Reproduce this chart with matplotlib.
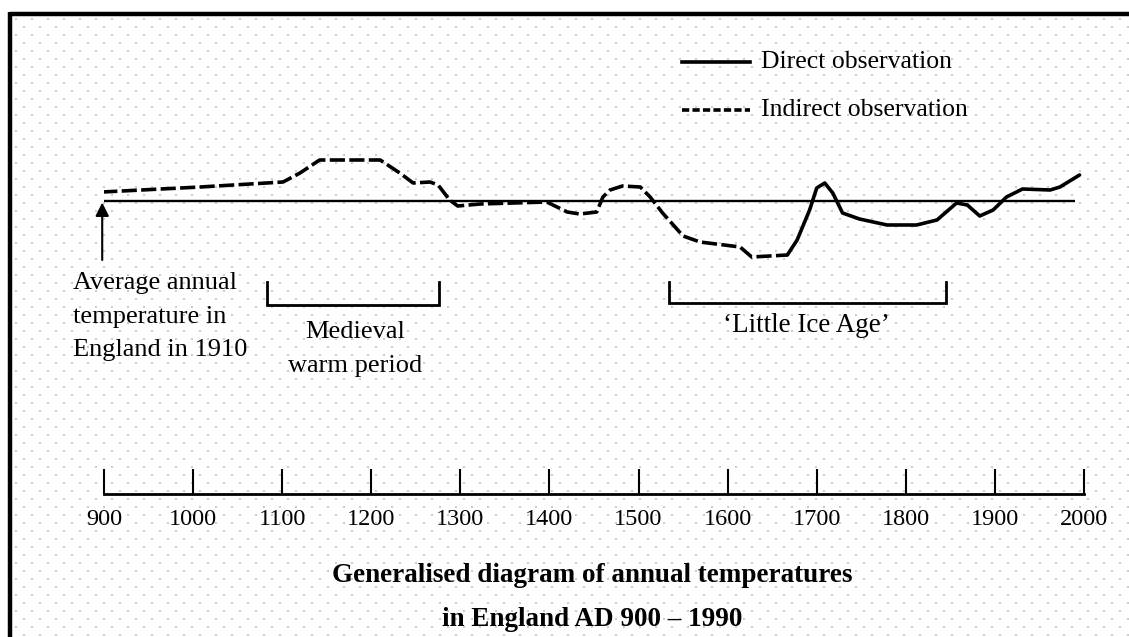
"""
Generalised diagram of annual temperatures in England AD 900 - 1990
(values are relative to the 1910 average, read off the printed figure)
"""
import numpy as np
import matplotlib
matplotlib.use("Agg")
import matplotlib.pyplot as plt

plt.rcParams["font.family"] = ["Liberation Serif", "DejaVu Serif"]

# ===== data (year, relative temperature) =====
indirect_years = [898, 1008, 1101, 1120, 1142, 1210, 1232, 1247, 1266, 1275,
                  1288, 1297, 1322, 1397, 1420, 1434, 1453, 1460, 1468, 1482,
                  1502, 1513, 1527, 1550, 1569, 1614, 1627, 1667]
indirect_temp = [0.18, 0.28, 0.38, 0.56, 0.82, 0.82, 0.56, 0.36, 0.38, 0.32,
                 0.02, -0.10, -0.06, -0.02, -0.22, -0.26, -0.22, 0.08, 0.22, 0.30,
                 0.28, 0.08, -0.24, -0.70, -0.82, -0.92, -1.12, -1.08]

direct_years = [1667, 1678, 1692, 1700, 1709, 1718, 1729, 1748, 1779, 1812,
                1835, 1857, 1869, 1883, 1898, 1913, 1931, 1962, 1973, 1995]
direct_temp = [-1.08, -0.78, -0.18, 0.26, 0.36, 0.16, -0.24, -0.36, -0.48, -0.48,
               -0.38, -0.04, -0.08, -0.30, -0.18, 0.08, 0.24, 0.22, 0.28, 0.52]

avg_1910 = 0.0
avg_span = (898, 1990)
medieval = (1083, 1276)
little_ice_age = (1534, 1845)
tick_years = list(range(900, 2001, 100))

W, H = 1129, 637
fig = plt.figure(figsize=(W / 100, H / 100), dpi=100)

# ----- background: dotted paper + frame -----
bg = fig.add_axes([0, 0, 1, 1], zorder=0)
bg.set_xlim(0, W); bg.set_ylim(H, 0); bg.axis("off")
gx, gy = np.meshgrid(np.arange(16, W + 16, 16), np.arange(19, H + 8, 8))
gx = gx + (np.arange(gy.shape[0])[:, None] % 2) * 8
bg.scatter(gx.ravel(), gy.ravel(), s=1.6, marker="s", c="#cccccc", linewidths=0)
bg.plot([9.5, W], [13.5, 13.5], color="black", lw=3.2, solid_capstyle="butt")
bg.plot([9.5, 9.5], [12, H], color="black", lw=3.2, solid_capstyle="butt")

# ----- main chart -----
ax = fig.add_axes([104 / W, 143 / H, 980 / W, 479 / H], zorder=1)
ax.patch.set_alpha(0)
ax.set_xlim(900, 2000)
ax.set_ylim(-5.86, 3.72)

ax.hlines(avg_1910, *avg_span, color="black", lw=1.7)
ax.plot(indirect_years, indirect_temp, color="black", lw=2.6,
        dashes=(4.2, 1.2), solid_joinstyle="round", dash_joinstyle="round")
ax.plot(direct_years, direct_temp, color="black", lw=2.6,
        solid_joinstyle="round", solid_capstyle="round")

for s in ["left", "right", "top"]:
    ax.spines[s].set_visible(False)
ax.spines["bottom"].set_linewidth(2.0)
ax.set_yticks([])
ax.set_xticks(tick_years)
ax.tick_params(axis="x", direction="in", length=18, width=1.5, pad=11,
               labelsize=17.5)

# annotation: 1910 average
ax.annotate("", xy=(898, -0.03), xytext=(898, -1.18), annotation_clip=False,
            arrowprops=dict(arrowstyle="-|>", color="black", lw=1.5,
                            mutation_scale=20, shrinkA=0, shrinkB=0))
ax.text(865, -1.42, "Average annual\ntemperature in\nEngland in 1910",
        ha="left", va="top", fontsize=19, linespacing=1.68, clip_on=False)

# period brackets
for (a, b), top, bot in [(medieval, -1.62, -2.08), (little_ice_age, -1.62, -2.04)]:
    ax.plot([a, a, b, b], [top, bot, bot, top], color="black", lw=2.0,
            solid_joinstyle="miter")
ax.text(1182, -2.40, "Medieval\nwarm period", ha="center", va="top",
        fontsize=19, linespacing=1.68)
ax.text(1689, -2.50, "\u2018Little Ice Age\u2019", ha="center", va="center",
        fontsize=19.5)

# legend
ax.plot([1549, 1625], [2.78, 2.78], color="black", lw=2.6, clip_on=False)
ax.plot([1549, 1625], [1.82, 1.82], color="black", lw=2.6, dashes=(2.0, 0.9),
        clip_on=False)
ax.text(1638, 2.78, "Direct observation", ha="left", va="center", fontsize=18.5)
ax.text(1638, 1.82, "Indirect observation", ha="left", va="center", fontsize=18.5)

# title
fig.text(592 / W, 1 - 576 / H, "Generalised diagram of annual temperatures",
         ha="center", va="center", fontsize=19.5, fontweight="bold")
fig.text(592 / W, 1 - 620 / H, "in England AD 900 \u2013 1990",
         ha="center", va="center", fontsize=19.5, fontweight="bold")

fig.savefig("out.png", dpi=100)
